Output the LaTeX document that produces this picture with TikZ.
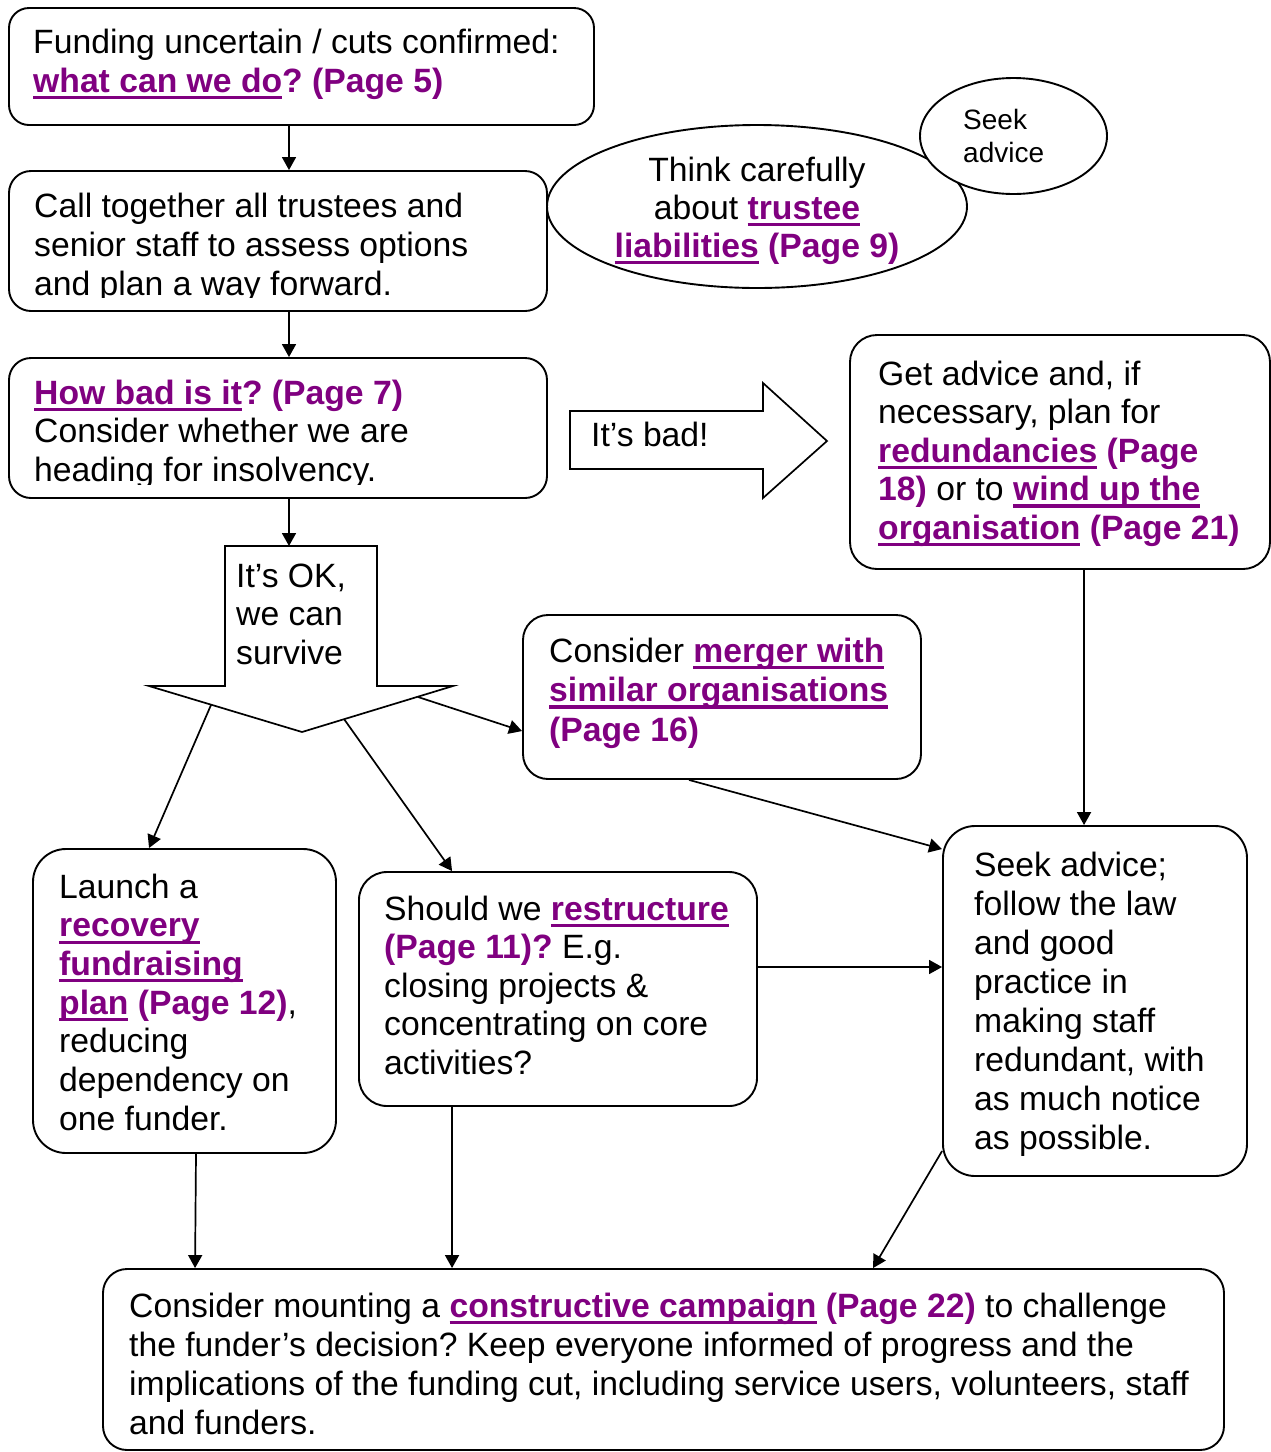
\documentclass[tikz,border=0pt]{standalone}
\usepackage{fontspec}
\setmainfont{Liberation Sans}
\usetikzlibrary{arrows.meta,shapes.geometric}
\definecolor{purp}{HTML}{800080}
\frenchspacing
\newcommand\ulx[1]{\setbox0\hbox{#1}\rlap{\rule[-7pt]{\wd0}{3.2pt}}\box0}
\newcommand\lk[1]{{\color{purp}\bfseries\ulx{#1}}}
\newcommand\pg[1]{{\color{purp}\bfseries #1}}
\newcommand\mlL[2]{\vtop{\baselineskip=#1pt\lineskiplimit=-100pt\lineskip=0pt\halign{##\hfil\cr#2\crcr}}}
\newcommand\mlC[2]{\vtop{\baselineskip=#1pt\lineskiplimit=-100pt\lineskip=0pt\halign{\hfil##\hfil\cr#2\crcr}}}
\tikzset{
  bx/.style={draw, line width=1.9pt, rounded corners=#1, inner sep=0pt, fill=white},
  txt/.style={inner sep=0pt, anchor=base west, font=\fontsize{33.7pt}{39pt}\selectfont},
  txtc/.style={inner sep=0pt, anchor=base, font=\fontsize{33.7pt}{39pt}\selectfont},
  arr/.style={-{Triangle[length=13pt,width=14pt]}, line width=1.7pt},
  blk/.style={draw, line width=1.7pt, fill=white, line join=miter},
  ell/.style={draw, ellipse, line width=1.9pt, inner sep=0pt, fill=white}
}
\begin{document}
\begin{tikzpicture}[x=1pt,y=-1pt]
\useasboundingbox (0,0) rectangle (1271,1452);
\fill[white] (0,0) rectangle (1271,1452);

% boxes
\node[bx=20, minimum width=585pt, minimum height=117pt] (b1) at (301.5,66.5) {};
\node[bx=22, minimum width=538pt, minimum height=140pt] (b2) at (278,241) {};
\node[bx=22, minimum width=538pt, minimum height=140pt] (b3) at (278,428) {};
\node[bx=27, minimum width=420pt, minimum height=234pt] (b4) at (1060,452) {};
\node[bx=25, minimum width=398pt, minimum height=164pt] (b5) at (722,697) {};
\node[bx=33, minimum width=303pt, minimum height=304pt] (b6) at (184.5,1001) {};
\node[bx=28, minimum width=398pt, minimum height=234pt] (b7) at (558,989) {};
\node[bx=32, minimum width=304pt, minimum height=350pt] (b8) at (1095,1001) {};
\node[bx=24, minimum width=1121pt, minimum height=181pt] (b9) at (663.5,1359.5) {};

% ellipses
\node[ell, minimum width=420pt, minimum height=163pt] (e1) at (757,206.5) {};
\node[ell, minimum width=187pt, minimum height=116pt] (e2) at (1013.5,136) {};

% block arrows
\draw[blk] (570,411) -- (763,411) -- (763,383) -- (827,441) -- (763,498) -- (763,469) -- (570,469) -- cycle;
\draw[blk] (225,546) -- (377,546) -- (377,686) -- (453,686) -- (302,732) -- (149,686) -- (225,686) -- cycle;
\coordinate (okTop) at (289,546);
\coordinate (okL) at (211,705);
\coordinate (okM) at (344,719);
\coordinate (okR) at (418,697);
\coordinate (c289) at (289,0);

% texts
\node[txt] (t1) at (33,53) {\mlL{39}{Funding uncertain / cuts confirmed:\cr
\lk{what can we do}\pg{? (Page 5)}}};
\begin{scope}
\clip (0,150) rectangle (600,297.5);
\node[txt] (t2) at (34,217) {\mlL{39}{Call together all trustees and\cr
senior staff to assess options\cr
and plan a way forward.}};
\end{scope}
\node[txtc] (te1) at (757,181) {\mlC{38}{Think carefully\cr
about \lk{trustee}\cr
\lk{liabilities} \pg{(Page 9)}}};
\node[txt, font=\fontsize{28pt}{33pt}\selectfont] (te2) at (963,129) {\mlL{33}{Seek\cr advice}};
\begin{scope}
\clip (0,340) rectangle (600,484);
\node[txt] (t3) at (34,404) {\mlL{38.5}{\lk{How bad is it}\pg{? (Page 7)}\cr
Consider whether we are\cr
heading for insolvency.}};
\end{scope}
\node[txt] (tbad) at (591,446) {It’s bad!};
\node[txt] (t4) at (878,385) {\mlL{38.5}{Get advice and, if\cr
necessary, plan for\cr
\lk{redundancies} \pg{(Page}\cr
\pg{18)} or to \lk{wind up the}\cr
\lk{organisation} \pg{(Page 21)}}};
\node[txt] (tok) at (236,587) {\mlL{38.5}{It’s OK,\cr we can\cr survive}};
\node[txt] (t5) at (549,662) {\mlL{39.5}{Consider \lk{merger with}\cr
\lk{similar organisations}\cr
\pg{(Page 16)}}};
\node[txt] (t6) at (59,898) {\mlL{38.7}{Launch a\cr
\lk{recovery}\cr
\lk{fundraising}\cr
\lk{plan} \pg{(Page 12)},\cr
reducing\cr
dependency on\cr
one funder.}};
\node[txt] (t7) at (384,920) {\mlL{38.5}{Should we \lk{restructure}\cr
\pg{(Page 11)?} E.g.\cr
closing projects \&\cr
concentrating on core\cr
activities?}};
\node[txt] (t8) at (974,876) {\mlL{39}{Seek advice;\cr
follow the law\cr
and good\cr
practice in\cr
making staff\cr
redundant, with\cr
as much notice\cr
as possible.}};
\node[txt] (t9) at (129,1317) {\mlL{39}{Consider mounting a \lk{constructive campaign} \pg{(Page 22)} to challenge\cr
the funder’s decision? Keep everyone informed of progress and the\cr
implications of the funding cut, including service users, volunteers, staff\cr
and funders.}};

% connectors
\draw[arr] (b1.south -| c289) -- (b2.north -| c289);
\draw[arr] (b2.south -| c289) -- (b3.north -| c289);
\draw[arr] (b3.south -| c289) -- (okTop);
\draw[arr] (okL) -- ([xshift=117pt]b6.north west);
\draw[arr] (okM) -- ([xshift=94pt]b7.north west);
\draw[arr] (okR) -- ([yshift=-117pt]b5.north west);
\draw[arr] ([xshift=167pt]b5.south west) -- ([yshift=-24pt]b8.north west);
\draw[arr] ([xshift=235pt]b4.south west) -- ([xshift=142pt]b8.north west);
\draw[arr] ([yshift=22pt]b7.east) -- ([yshift=34pt]b8.west);
\draw[arr] ([xshift=11.5pt]b6.south) -- ([xshift=93pt]b9.north west);
\draw[arr] ([xshift=94pt]b7.south west) -- ([xshift=350pt]b9.north west);
\draw[arr] ([yshift=-326pt]b8.north west) -- ([xshift=771pt]b9.north west);
\end{tikzpicture}
\end{document}
